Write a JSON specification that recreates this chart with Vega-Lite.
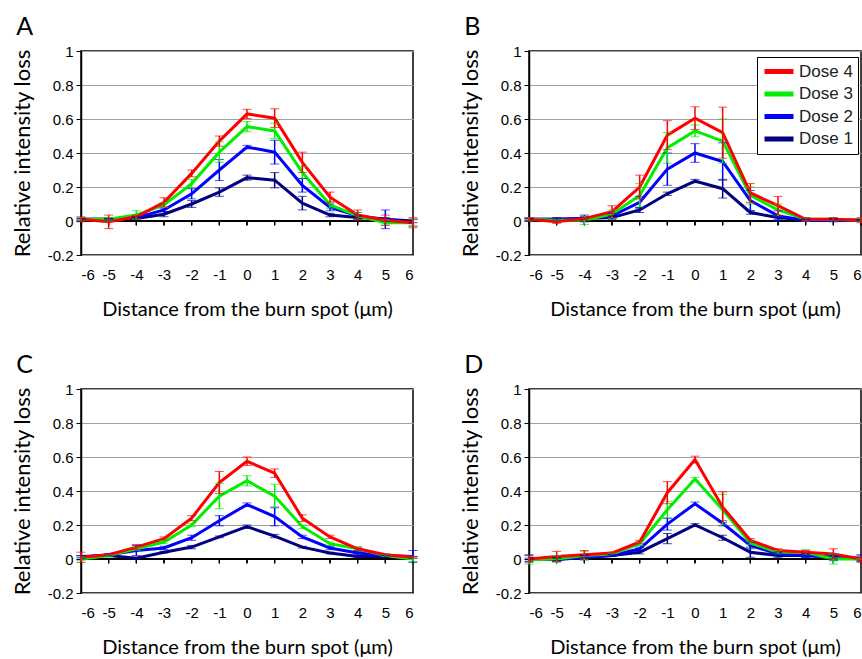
{
"$schema": "https://vega.github.io/schema/vega-lite/v6.json",
"padding": {"left": 10, "top": 14, "right": 4, "bottom": 4},
"background": "white",
"config": {
  "view": {"stroke": "black", "strokeWidth": 1.5},
  "axis": {"labelFont": "Liberation Sans", "labelFontSize": 15, "labelColor": "black", "titleFont": "Lato", "titleFontSize": 20, "titleFontWeight": "normal", "titleColor": "black", "labelOverlap": false, "tickCount": 30},
  "axisY": {"titleFontSize": 22},
  "title": {"font": "Lato", "fontSize": 25, "fontWeight": "normal", "color": "black", "anchor": "start"}
},
"datasets": {"d": [
{"p":"A","d":"Dose 1","x":-6,"v":0.01,"e":0.005},{"p":"A","d":"Dose 1","x":-5,"v":0.01,"e":0.005},{"p":"A","d":"Dose 1","x":-4,"v":0.015,"e":0.005},{"p":"A","d":"Dose 1","x":-3,"v":0.04,"e":0.015},{"p":"A","d":"Dose 1","x":-2,"v":0.1,"e":0.02},{"p":"A","d":"Dose 1","x":-1,"v":0.17,"e":0.025},{"p":"A","d":"Dose 1","x":0,"v":0.255,"e":0.015},{"p":"A","d":"Dose 1","x":1,"v":0.24,"e":0.045},{"p":"A","d":"Dose 1","x":2,"v":0.105,"e":0.04},{"p":"A","d":"Dose 1","x":3,"v":0.035,"e":0.01},{"p":"A","d":"Dose 1","x":4,"v":0.02,"e":0.01},{"p":"A","d":"Dose 1","x":5,"v":0.01,"e":0.01},{"p":"A","d":"Dose 1","x":6,"v":0.0,"e":0.01},
{"p":"A","d":"Dose 2","x":-6,"v":0.01,"e":0.005},{"p":"A","d":"Dose 2","x":-5,"v":0.01,"e":0.005},{"p":"A","d":"Dose 2","x":-4,"v":0.02,"e":0.005},{"p":"A","d":"Dose 2","x":-3,"v":0.065,"e":0.01},{"p":"A","d":"Dose 2","x":-2,"v":0.16,"e":0.03},{"p":"A","d":"Dose 2","x":-1,"v":0.3,"e":0.062},{"p":"A","d":"Dose 2","x":0,"v":0.435,"e":0.01},{"p":"A","d":"Dose 2","x":1,"v":0.405,"e":0.07},{"p":"A","d":"Dose 2","x":2,"v":0.21,"e":0.04},{"p":"A","d":"Dose 2","x":3,"v":0.08,"e":0.02},{"p":"A","d":"Dose 2","x":4,"v":0.03,"e":0.02},{"p":"A","d":"Dose 2","x":5,"v":0.01,"e":0.055},{"p":"A","d":"Dose 2","x":6,"v":-0.01,"e":0.02},
{"p":"A","d":"Dose 3","x":-6,"v":0.01,"e":0.01},{"p":"A","d":"Dose 3","x":-5,"v":0.01,"e":0.01},{"p":"A","d":"Dose 3","x":-4,"v":0.035,"e":0.025},{"p":"A","d":"Dose 3","x":-3,"v":0.095,"e":0.015},{"p":"A","d":"Dose 3","x":-2,"v":0.22,"e":0.025},{"p":"A","d":"Dose 3","x":-1,"v":0.405,"e":0.06},{"p":"A","d":"Dose 3","x":0,"v":0.555,"e":0.03},{"p":"A","d":"Dose 3","x":1,"v":0.53,"e":0.045},{"p":"A","d":"Dose 3","x":2,"v":0.285,"e":0.035},{"p":"A","d":"Dose 3","x":3,"v":0.095,"e":0.02},{"p":"A","d":"Dose 3","x":4,"v":0.03,"e":0.02},{"p":"A","d":"Dose 3","x":5,"v":-0.01,"e":0.015},{"p":"A","d":"Dose 3","x":6,"v":-0.01,"e":0.02},
{"p":"A","d":"Dose 4","x":-6,"v":0.01,"e":0.015},{"p":"A","d":"Dose 4","x":-5,"v":-0.005,"e":0.04},{"p":"A","d":"Dose 4","x":-4,"v":0.025,"e":0.01},{"p":"A","d":"Dose 4","x":-3,"v":0.11,"e":0.027},{"p":"A","d":"Dose 4","x":-2,"v":0.28,"e":0.02},{"p":"A","d":"Dose 4","x":-1,"v":0.47,"e":0.03},{"p":"A","d":"Dose 4","x":0,"v":0.63,"e":0.027},{"p":"A","d":"Dose 4","x":1,"v":0.605,"e":0.055},{"p":"A","d":"Dose 4","x":2,"v":0.345,"e":0.06},{"p":"A","d":"Dose 4","x":3,"v":0.14,"e":0.03},{"p":"A","d":"Dose 4","x":4,"v":0.035,"e":0.03},{"p":"A","d":"Dose 4","x":5,"v":0.005,"e":0.03},{"p":"A","d":"Dose 4","x":6,"v":-0.01,"e":0.03},
{"p":"B","d":"Dose 1","x":-6,"v":0.01,"e":0.005},{"p":"B","d":"Dose 1","x":-5,"v":0.01,"e":0.01},{"p":"B","d":"Dose 1","x":-4,"v":0.015,"e":0.01},{"p":"B","d":"Dose 1","x":-3,"v":0.02,"e":0.01},{"p":"B","d":"Dose 1","x":-2,"v":0.065,"e":0.015},{"p":"B","d":"Dose 1","x":-1,"v":0.16,"e":0.01},{"p":"B","d":"Dose 1","x":0,"v":0.235,"e":0.01},{"p":"B","d":"Dose 1","x":1,"v":0.19,"e":0.055},{"p":"B","d":"Dose 1","x":2,"v":0.05,"e":0.01},{"p":"B","d":"Dose 1","x":3,"v":0.02,"e":0.01},{"p":"B","d":"Dose 1","x":4,"v":0.005,"e":0.005},{"p":"B","d":"Dose 1","x":5,"v":0.005,"e":0.005},{"p":"B","d":"Dose 1","x":6,"v":0.005,"e":0.005},
{"p":"B","d":"Dose 2","x":-6,"v":0.01,"e":0.005},{"p":"B","d":"Dose 2","x":-5,"v":0.01,"e":0.005},{"p":"B","d":"Dose 2","x":-4,"v":0.015,"e":0.02},{"p":"B","d":"Dose 2","x":-3,"v":0.03,"e":0.015},{"p":"B","d":"Dose 2","x":-2,"v":0.11,"e":0.035},{"p":"B","d":"Dose 2","x":-1,"v":0.305,"e":0.095},{"p":"B","d":"Dose 2","x":0,"v":0.4,"e":0.055},{"p":"B","d":"Dose 2","x":1,"v":0.35,"e":0.11},{"p":"B","d":"Dose 2","x":2,"v":0.12,"e":0.06},{"p":"B","d":"Dose 2","x":3,"v":0.03,"e":0.03},{"p":"B","d":"Dose 2","x":4,"v":0.005,"e":0.005},{"p":"B","d":"Dose 2","x":5,"v":0.005,"e":0.01},{"p":"B","d":"Dose 2","x":6,"v":0.005,"e":0.005},
{"p":"B","d":"Dose 3","x":-6,"v":0.01,"e":0.01},{"p":"B","d":"Dose 3","x":-5,"v":0.005,"e":0.005},{"p":"B","d":"Dose 3","x":-4,"v":0.005,"e":0.025},{"p":"B","d":"Dose 3","x":-3,"v":0.04,"e":0.025},{"p":"B","d":"Dose 3","x":-2,"v":0.15,"e":0.07},{"p":"B","d":"Dose 3","x":-1,"v":0.43,"e":0.09},{"p":"B","d":"Dose 3","x":0,"v":0.53,"e":0.035},{"p":"B","d":"Dose 3","x":1,"v":0.47,"e":0.13},{"p":"B","d":"Dose 3","x":2,"v":0.15,"e":0.05},{"p":"B","d":"Dose 3","x":3,"v":0.065,"e":0.035},{"p":"B","d":"Dose 3","x":4,"v":0.01,"e":0.01},{"p":"B","d":"Dose 3","x":5,"v":0.01,"e":0.01},{"p":"B","d":"Dose 3","x":6,"v":0.005,"e":0.01},
{"p":"B","d":"Dose 4","x":-6,"v":0.01,"e":0.01},{"p":"B","d":"Dose 4","x":-5,"v":-0.004,"e":0.01},{"p":"B","d":"Dose 4","x":-4,"v":0.014,"e":0.01},{"p":"B","d":"Dose 4","x":-3,"v":0.055,"e":0.035},{"p":"B","d":"Dose 4","x":-2,"v":0.2,"e":0.07},{"p":"B","d":"Dose 4","x":-1,"v":0.505,"e":0.085},{"p":"B","d":"Dose 4","x":0,"v":0.605,"e":0.067},{"p":"B","d":"Dose 4","x":1,"v":0.52,"e":0.15},{"p":"B","d":"Dose 4","x":2,"v":0.165,"e":0.055},{"p":"B","d":"Dose 4","x":3,"v":0.09,"e":0.055},{"p":"B","d":"Dose 4","x":4,"v":0.01,"e":0.01},{"p":"B","d":"Dose 4","x":5,"v":0.01,"e":0.01},{"p":"B","d":"Dose 4","x":6,"v":0.005,"e":0.015},
{"p":"C","d":"Dose 1","x":-6,"v":0.015,"e":0.005},{"p":"C","d":"Dose 1","x":-5,"v":0.02,"e":0.005},{"p":"C","d":"Dose 1","x":-4,"v":0.005,"e":0.005},{"p":"C","d":"Dose 1","x":-3,"v":0.04,"e":0.005},{"p":"C","d":"Dose 1","x":-2,"v":0.07,"e":0.01},{"p":"C","d":"Dose 1","x":-1,"v":0.13,"e":0.005},{"p":"C","d":"Dose 1","x":0,"v":0.19,"e":0.01},{"p":"C","d":"Dose 1","x":1,"v":0.135,"e":0.01},{"p":"C","d":"Dose 1","x":2,"v":0.07,"e":0.005},{"p":"C","d":"Dose 1","x":3,"v":0.035,"e":0.005},{"p":"C","d":"Dose 1","x":4,"v":0.015,"e":0.005},{"p":"C","d":"Dose 1","x":5,"v":0.015,"e":0.005},{"p":"C","d":"Dose 1","x":6,"v":0.01,"e":0.005},
{"p":"C","d":"Dose 2","x":-6,"v":0.01,"e":0.01},{"p":"C","d":"Dose 2","x":-5,"v":0.025,"e":0.005},{"p":"C","d":"Dose 2","x":-4,"v":0.05,"e":0.03},{"p":"C","d":"Dose 2","x":-3,"v":0.065,"e":0.01},{"p":"C","d":"Dose 2","x":-2,"v":0.125,"e":0.015},{"p":"C","d":"Dose 2","x":-1,"v":0.225,"e":0.03},{"p":"C","d":"Dose 2","x":0,"v":0.32,"e":0.01},{"p":"C","d":"Dose 2","x":1,"v":0.25,"e":0.055},{"p":"C","d":"Dose 2","x":2,"v":0.13,"e":0.01},{"p":"C","d":"Dose 2","x":3,"v":0.065,"e":0.01},{"p":"C","d":"Dose 2","x":4,"v":0.035,"e":0.01},{"p":"C","d":"Dose 2","x":5,"v":0.02,"e":0.005},{"p":"C","d":"Dose 2","x":6,"v":0.015,"e":0.035},
{"p":"C","d":"Dose 3","x":-6,"v":0.0,"e":0.01},{"p":"C","d":"Dose 3","x":-5,"v":0.02,"e":0.005},{"p":"C","d":"Dose 3","x":-4,"v":0.06,"e":0.01},{"p":"C","d":"Dose 3","x":-3,"v":0.1,"e":0.01},{"p":"C","d":"Dose 3","x":-2,"v":0.2,"e":0.01},{"p":"C","d":"Dose 3","x":-1,"v":0.37,"e":0.075},{"p":"C","d":"Dose 3","x":0,"v":0.46,"e":0.03},{"p":"C","d":"Dose 3","x":1,"v":0.37,"e":0.07},{"p":"C","d":"Dose 3","x":2,"v":0.19,"e":0.01},{"p":"C","d":"Dose 3","x":3,"v":0.09,"e":0.01},{"p":"C","d":"Dose 3","x":4,"v":0.06,"e":0.01},{"p":"C","d":"Dose 3","x":5,"v":0.02,"e":0.005},{"p":"C","d":"Dose 3","x":6,"v":0.0,"e":0.015},
{"p":"C","d":"Dose 4","x":-6,"v":0.01,"e":0.03},{"p":"C","d":"Dose 4","x":-5,"v":0.025,"e":0.005},{"p":"C","d":"Dose 4","x":-4,"v":0.07,"e":0.015},{"p":"C","d":"Dose 4","x":-3,"v":0.12,"e":0.01},{"p":"C","d":"Dose 4","x":-2,"v":0.24,"e":0.015},{"p":"C","d":"Dose 4","x":-1,"v":0.45,"e":0.065},{"p":"C","d":"Dose 4","x":0,"v":0.575,"e":0.025},{"p":"C","d":"Dose 4","x":1,"v":0.505,"e":0.025},{"p":"C","d":"Dose 4","x":2,"v":0.24,"e":0.02},{"p":"C","d":"Dose 4","x":3,"v":0.13,"e":0.01},{"p":"C","d":"Dose 4","x":4,"v":0.06,"e":0.01},{"p":"C","d":"Dose 4","x":5,"v":0.025,"e":0.005},{"p":"C","d":"Dose 4","x":6,"v":0.01,"e":0.005},
{"p":"D","d":"Dose 1","x":-6,"v":0.0,"e":0.005},{"p":"D","d":"Dose 1","x":-5,"v":-0.005,"e":0.01},{"p":"D","d":"Dose 1","x":-4,"v":0.01,"e":0.01},{"p":"D","d":"Dose 1","x":-3,"v":0.02,"e":0.005},{"p":"D","d":"Dose 1","x":-2,"v":0.04,"e":0.01},{"p":"D","d":"Dose 1","x":-1,"v":0.12,"e":0.03},{"p":"D","d":"Dose 1","x":0,"v":0.2,"e":0.008},{"p":"D","d":"Dose 1","x":1,"v":0.125,"e":0.015},{"p":"D","d":"Dose 1","x":2,"v":0.04,"e":0.03},{"p":"D","d":"Dose 1","x":3,"v":0.02,"e":0.01},{"p":"D","d":"Dose 1","x":4,"v":0.02,"e":0.01},{"p":"D","d":"Dose 1","x":5,"v":0.01,"e":0.01},{"p":"D","d":"Dose 1","x":6,"v":0.0,"e":0.01},
{"p":"D","d":"Dose 2","x":-6,"v":0.005,"e":0.02},{"p":"D","d":"Dose 2","x":-5,"v":0.0,"e":0.01},{"p":"D","d":"Dose 2","x":-4,"v":0.01,"e":0.015},{"p":"D","d":"Dose 2","x":-3,"v":0.02,"e":0.005},{"p":"D","d":"Dose 2","x":-2,"v":0.06,"e":0.01},{"p":"D","d":"Dose 2","x":-1,"v":0.205,"e":0.035},{"p":"D","d":"Dose 2","x":0,"v":0.325,"e":0.01},{"p":"D","d":"Dose 2","x":1,"v":0.21,"e":0.015},{"p":"D","d":"Dose 2","x":2,"v":0.08,"e":0.02},{"p":"D","d":"Dose 2","x":3,"v":0.03,"e":0.01},{"p":"D","d":"Dose 2","x":4,"v":0.02,"e":0.01},{"p":"D","d":"Dose 2","x":5,"v":0.01,"e":0.02},{"p":"D","d":"Dose 2","x":6,"v":0.005,"e":0.02},
{"p":"D","d":"Dose 3","x":-6,"v":-0.005,"e":0.025},{"p":"D","d":"Dose 3","x":-5,"v":0.0,"e":0.02},{"p":"D","d":"Dose 3","x":-4,"v":0.02,"e":0.025},{"p":"D","d":"Dose 3","x":-3,"v":0.03,"e":0.005},{"p":"D","d":"Dose 3","x":-2,"v":0.09,"e":0.01},{"p":"D","d":"Dose 3","x":-1,"v":0.29,"e":0.05},{"p":"D","d":"Dose 3","x":0,"v":0.47,"e":0.01},{"p":"D","d":"Dose 3","x":1,"v":0.29,"e":0.09},{"p":"D","d":"Dose 3","x":2,"v":0.095,"e":0.01},{"p":"D","d":"Dose 3","x":3,"v":0.04,"e":0.01},{"p":"D","d":"Dose 3","x":4,"v":0.04,"e":0.015},{"p":"D","d":"Dose 3","x":5,"v":0.0,"e":0.03},{"p":"D","d":"Dose 3","x":6,"v":0.0,"e":0.005},
{"p":"D","d":"Dose 4","x":-6,"v":0.0,"e":0.02},{"p":"D","d":"Dose 4","x":-5,"v":0.015,"e":0.03},{"p":"D","d":"Dose 4","x":-4,"v":0.025,"e":0.025},{"p":"D","d":"Dose 4","x":-3,"v":0.035,"e":0.005},{"p":"D","d":"Dose 4","x":-2,"v":0.1,"e":0.01},{"p":"D","d":"Dose 4","x":-1,"v":0.39,"e":0.065},{"p":"D","d":"Dose 4","x":0,"v":0.585,"e":0.02},{"p":"D","d":"Dose 4","x":1,"v":0.305,"e":0.09},{"p":"D","d":"Dose 4","x":2,"v":0.11,"e":0.01},{"p":"D","d":"Dose 4","x":3,"v":0.05,"e":0.01},{"p":"D","d":"Dose 4","x":4,"v":0.04,"e":0.01},{"p":"D","d":"Dose 4","x":5,"v":0.03,"e":0.03},{"p":"D","d":"Dose 4","x":6,"v":0.0,"e":0.02}
]},
"data": {"name": "d"},
"columns": 2,
"bounds": "flush",
"spacing": {"row": 134, "column": 116},
"resolve": {"scale": {"color": "independent"}, "legend": {"color": "independent"}},
"concat": [
 {"width": 332, "height": 204,
  "title": {"text": "A", "dx": 5, "offset": 4},
  "transform": [{"filter": "datum.p === 'A'"}],
  "encoding": {"color": {"field": "d", "type": "nominal", "scale": {"domain": ["Dose 4","Dose 3","Dose 2","Dose 1"], "range": ["#ff0000","#00ee00","#0000ff","#000080"]}, "legend": null}},
  "layer": [
   {"mark": {"type": "rule", "color": "black", "strokeWidth": 1.5}, "encoding": {"y": {"datum": 0, "type": "quantitative", "title": "Relative intensity loss", "scale": {"domain": [-0.2, 1], "nice": false}, "axis": {"values": [-0.2,0,0.2,0.4,0.6,0.8,1], "tickCount": 30, "format": ".1~f", "labelExpr": "replace(datum.label, '\u2212', '-')", "grid": true, "gridColor": "#a0a0a0", "domainColor": "black", "domainWidth": 1.5, "tickColor": "black", "tickSize": 5, "labelPadding": 3, "titlePadding": 13}}, "color": {"value": "black"}}},
   {"mark": {"type": "rule", "color": "black", "strokeWidth": 1}, "encoding": {"x": {"field": "x", "type": "quantitative", "title": "Distance from the burn spot (\u03bcm)", "scale": {"domain": [-6, 6], "nice": false}, "axis": {"values": [-6,-5,-4,-3,-2,-1,0,1,2,3,4,5,6], "tickCount": 30, "format": "d", "labelExpr": "replace(datum.label, '\u2212', '-')", "grid": false, "ticks": false, "tickSize": 0, "domain": false, "labelPadding": 12, "titlePadding": 17}}, "y": {"datum": 0, "type": "quantitative", "title": "Relative intensity loss"}, "y2": {"datum": -0.025}, "color": {"value": "black"}}},
   {"mark": {"type": "line", "strokeWidth": 3}, "encoding": {"x": {"field": "x", "type": "quantitative", "title": "Distance from the burn spot (\u03bcm)"}, "y": {"field": "v", "type": "quantitative", "title": "Relative intensity loss"}}},
   {"mark": {"type": "errorbar", "ticks": {"size": 9}, "rule": {"strokeWidth": 1.5}}, "encoding": {"x": {"field": "x", "type": "quantitative", "title": "Distance from the burn spot (\u03bcm)"}, "y": {"field": "v", "type": "quantitative", "title": "Relative intensity loss"}, "yError": {"field": "e"}}}
  ]},
 {"width": 332, "height": 204,
  "title": {"text": "B", "dx": 5, "offset": 4},
  "transform": [{"filter": "datum.p === 'B'"}],
  "encoding": {"color": {"field": "d", "type": "nominal", "scale": {"domain": ["Dose 4","Dose 3","Dose 2","Dose 1"], "range": ["#ff0000","#00ee00","#0000ff","#000080"]},
    "legend": {"title": null, "orient": "none", "legendX": 228, "legendY": 6, "padding": 5, "strokeColor": "black", "fillColor": "white", "symbolType": "stroke", "symbolStrokeWidth": 5, "symbolSize": 841, "clipHeight": 19, "labelFont": "Liberation Sans", "labelFontSize": 17, "labelColor": "#222222", "labelOffset": 3, "rowPadding": 3.5,
      "encode": {"symbols": {"update": {"stroke": {"signal": "datum.value === 'Dose 4' ? '#ff0000' : datum.value === 'Dose 3' ? '#00ee00' : datum.value === 'Dose 2' ? '#0070c0' : '#000000'"}}}}}}},
  "layer": [
   {"mark": {"type": "rule", "color": "black", "strokeWidth": 1.5}, "encoding": {"y": {"datum": 0, "type": "quantitative", "title": "Relative intensity loss", "scale": {"domain": [-0.2, 1], "nice": false}, "axis": {"values": [-0.2,0,0.2,0.4,0.6,0.8,1], "tickCount": 30, "format": ".1~f", "labelExpr": "replace(datum.label, '\u2212', '-')", "grid": true, "gridColor": "#a0a0a0", "domainColor": "black", "domainWidth": 1.5, "tickColor": "black", "tickSize": 5, "labelPadding": 3, "titlePadding": 13}}, "color": {"value": "black"}}},
   {"mark": {"type": "rule", "color": "black", "strokeWidth": 1}, "encoding": {"x": {"field": "x", "type": "quantitative", "title": "Distance from the burn spot (\u03bcm)", "scale": {"domain": [-6, 6], "nice": false}, "axis": {"values": [-6,-5,-4,-3,-2,-1,0,1,2,3,4,5,6], "tickCount": 30, "format": "d", "labelExpr": "replace(datum.label, '\u2212', '-')", "grid": false, "ticks": false, "tickSize": 0, "domain": false, "labelPadding": 12, "titlePadding": 17}}, "y": {"datum": 0, "type": "quantitative", "title": "Relative intensity loss"}, "y2": {"datum": -0.025}, "color": {"value": "black"}}},
   {"mark": {"type": "line", "strokeWidth": 3}, "encoding": {"x": {"field": "x", "type": "quantitative", "title": "Distance from the burn spot (\u03bcm)"}, "y": {"field": "v", "type": "quantitative", "title": "Relative intensity loss"}}},
   {"mark": {"type": "errorbar", "ticks": {"size": 9}, "rule": {"strokeWidth": 1.5}}, "encoding": {"x": {"field": "x", "type": "quantitative", "title": "Distance from the burn spot (\u03bcm)"}, "y": {"field": "v", "type": "quantitative", "title": "Relative intensity loss"}, "yError": {"field": "e"}}}
  ]},
 {"width": 332, "height": 204,
  "title": {"text": "C", "dx": 5, "offset": 4},
  "transform": [{"filter": "datum.p === 'C'"}],
  "encoding": {"color": {"field": "d", "type": "nominal", "scale": {"domain": ["Dose 4","Dose 3","Dose 2","Dose 1"], "range": ["#ff0000","#00ee00","#0000ff","#000080"]}, "legend": null}},
  "layer": [
   {"mark": {"type": "rule", "color": "black", "strokeWidth": 1.5}, "encoding": {"y": {"datum": 0, "type": "quantitative", "title": "Relative intensity loss", "scale": {"domain": [-0.2, 1], "nice": false}, "axis": {"values": [-0.2,0,0.2,0.4,0.6,0.8,1], "tickCount": 30, "format": ".1~f", "labelExpr": "replace(datum.label, '\u2212', '-')", "grid": true, "gridColor": "#a0a0a0", "domainColor": "black", "domainWidth": 1.5, "tickColor": "black", "tickSize": 5, "labelPadding": 3, "titlePadding": 13}}, "color": {"value": "black"}}},
   {"mark": {"type": "rule", "color": "black", "strokeWidth": 1}, "encoding": {"x": {"field": "x", "type": "quantitative", "title": "Distance from the burn spot (\u03bcm)", "scale": {"domain": [-6, 6], "nice": false}, "axis": {"values": [-6,-5,-4,-3,-2,-1,0,1,2,3,4,5,6], "tickCount": 30, "format": "d", "labelExpr": "replace(datum.label, '\u2212', '-')", "grid": false, "ticks": false, "tickSize": 0, "domain": false, "labelPadding": 12, "titlePadding": 17}}, "y": {"datum": 0, "type": "quantitative", "title": "Relative intensity loss"}, "y2": {"datum": -0.025}, "color": {"value": "black"}}},
   {"mark": {"type": "line", "strokeWidth": 3}, "encoding": {"x": {"field": "x", "type": "quantitative", "title": "Distance from the burn spot (\u03bcm)"}, "y": {"field": "v", "type": "quantitative", "title": "Relative intensity loss"}}},
   {"mark": {"type": "errorbar", "ticks": {"size": 9}, "rule": {"strokeWidth": 1.5}}, "encoding": {"x": {"field": "x", "type": "quantitative", "title": "Distance from the burn spot (\u03bcm)"}, "y": {"field": "v", "type": "quantitative", "title": "Relative intensity loss"}, "yError": {"field": "e"}}}
  ]},
 {"width": 332, "height": 204,
  "title": {"text": "D", "dx": 5, "offset": 4},
  "transform": [{"filter": "datum.p === 'D'"}],
  "encoding": {"color": {"field": "d", "type": "nominal", "scale": {"domain": ["Dose 4","Dose 3","Dose 2","Dose 1"], "range": ["#ff0000","#00ee00","#0000ff","#000080"]}, "legend": null}},
  "layer": [
   {"mark": {"type": "rule", "color": "black", "strokeWidth": 1.5}, "encoding": {"y": {"datum": 0, "type": "quantitative", "title": "Relative intensity loss", "scale": {"domain": [-0.2, 1], "nice": false}, "axis": {"values": [-0.2,0,0.2,0.4,0.6,0.8,1], "tickCount": 30, "format": ".1~f", "labelExpr": "replace(datum.label, '\u2212', '-')", "grid": true, "gridColor": "#a0a0a0", "domainColor": "black", "domainWidth": 1.5, "tickColor": "black", "tickSize": 5, "labelPadding": 3, "titlePadding": 13}}, "color": {"value": "black"}}},
   {"mark": {"type": "rule", "color": "black", "strokeWidth": 1}, "encoding": {"x": {"field": "x", "type": "quantitative", "title": "Distance from the burn spot (\u03bcm)", "scale": {"domain": [-6, 6], "nice": false}, "axis": {"values": [-6,-5,-4,-3,-2,-1,0,1,2,3,4,5,6], "tickCount": 30, "format": "d", "labelExpr": "replace(datum.label, '\u2212', '-')", "grid": false, "ticks": false, "tickSize": 0, "domain": false, "labelPadding": 12, "titlePadding": 17}}, "y": {"datum": 0, "type": "quantitative", "title": "Relative intensity loss"}, "y2": {"datum": -0.025}, "color": {"value": "black"}}},
   {"mark": {"type": "line", "strokeWidth": 3}, "encoding": {"x": {"field": "x", "type": "quantitative", "title": "Distance from the burn spot (\u03bcm)"}, "y": {"field": "v", "type": "quantitative", "title": "Relative intensity loss"}}},
   {"mark": {"type": "errorbar", "ticks": {"size": 9}, "rule": {"strokeWidth": 1.5}}, "encoding": {"x": {"field": "x", "type": "quantitative", "title": "Distance from the burn spot (\u03bcm)"}, "y": {"field": "v", "type": "quantitative", "title": "Relative intensity loss"}, "yError": {"field": "e"}}}
  ]}
]
}
